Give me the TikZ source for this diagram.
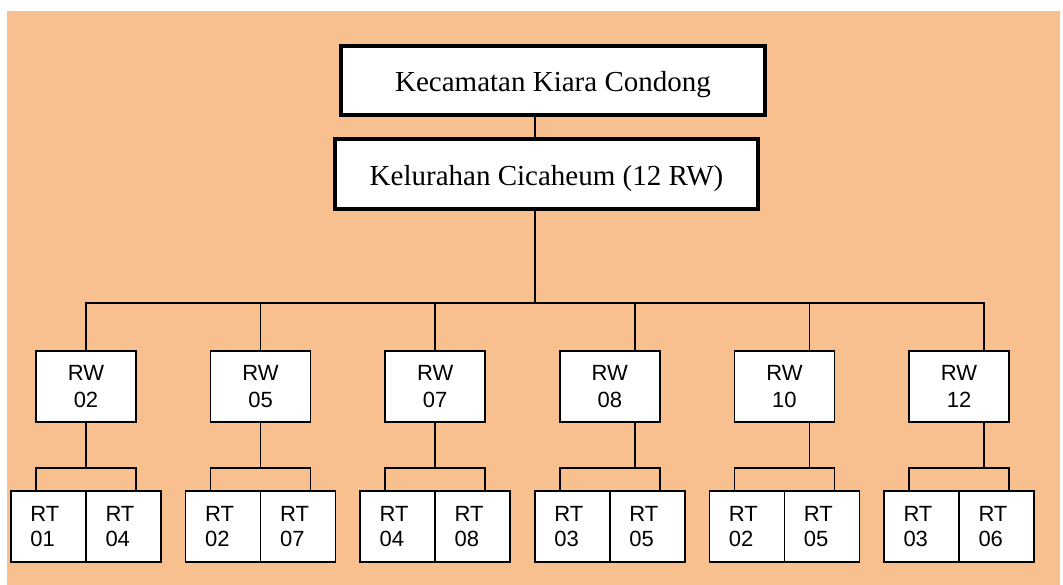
\documentclass[tikz,border=0pt]{standalone}
\usepackage{fontspec}
\newfontfamily\serifx{Liberation Serif}
\newfontfamily\sansx{Liberation Sans}
\definecolor{peach}{RGB}{248,191,143}
\pgfdeclarelayer{bg}
\pgfsetlayers{bg,main}
\begin{document}
\begin{tikzpicture}[x=1pt,y=-1pt,
 topbox/.style={draw, line width=3.8pt, fill=white, inner sep=0pt, outer sep=0pt, text height=23pt, text depth=0pt, font=\serifx\fontsize{29}{34}\selectfont},
 rwbox/.style={draw, line width=1.6pt, fill=white, minimum width=100pt, minimum height=71pt, inner sep=0pt, outer sep=0pt, align=center, font=\sansx\fontsize{22}{26.7}\selectfont},
 rtbox/.style={draw, line width=1.6pt, fill=white, minimum width=75pt, minimum height=71pt, inner xsep=19.5pt, inner ysep=0pt, text width=36pt, outer sep=0pt, align=left, font=\sansx\fontsize{22}{24.3}\selectfont},
 link/.style={line width=1.6pt, line cap=rect}]
\useasboundingbox (0,0) rectangle (1063,585);
\begin{pgfonlayer}{bg}
\fill[white] (0,0) rectangle (1063,585);
\fill[peach] (7,11) rectangle (1060,585);
\end{pgfonlayer}

\node[topbox, minimum width=424pt, minimum height=69pt] (kec) at (553,80.5) {Kecamatan Kiara Condong};
\node[topbox, minimum width=423pt, minimum height=70pt] (kel) at (546.5,174) {Kelurahan Cicaheum (12 RW)};

\coordinate (busL) at (86,303);
\coordinate (busR) at (984,303);
\coordinate (trunk) at (535,303);

\foreach \i/\rw/\ra/\rb/\off in {0/02/01/04/0, 1/05/02/07/0, 2/07/04/08/0, 3/08/03/05/25, 4/10/02/05/25, 5/12/03/06/25} {
  \pgfmathsetmacro\cx{86+174.6*\i}
  \node[rwbox] (rw\i) at (\cx,386.5) {RW\\\rw};
  \node[rtbox] (rta\i) at (\cx-37.5,526.5) {RT\\\ra};
  \node[rtbox] (rtb\i) at (\cx+37.5,526.5) {RT\\\rb};
  \coordinate (sb\i) at (\cx+\off,468);
  \coordinate (sl\i) at (\cx-50,468);
  \coordinate (sr\i) at (\cx+50,468);
  \begin{pgfonlayer}{bg}
    \draw[link] (busL -| sb\i) -- (rw\i.north -| sb\i);
    \draw[link] (rw\i.south -| sb\i) -- (sb\i);
    \draw[link] (rta\i.north -| sl\i) -- (sl\i) -- (sr\i) -- (rtb\i.north -| sr\i);
  \end{pgfonlayer}
}
\begin{pgfonlayer}{bg}
\draw[link] (busL) -- (busR);
\draw[link] (kec.south -| trunk) -- (kel.north -| trunk);
\draw[link] (kel.south -| trunk) -- (trunk);
\end{pgfonlayer}
\end{tikzpicture}
\end{document}
